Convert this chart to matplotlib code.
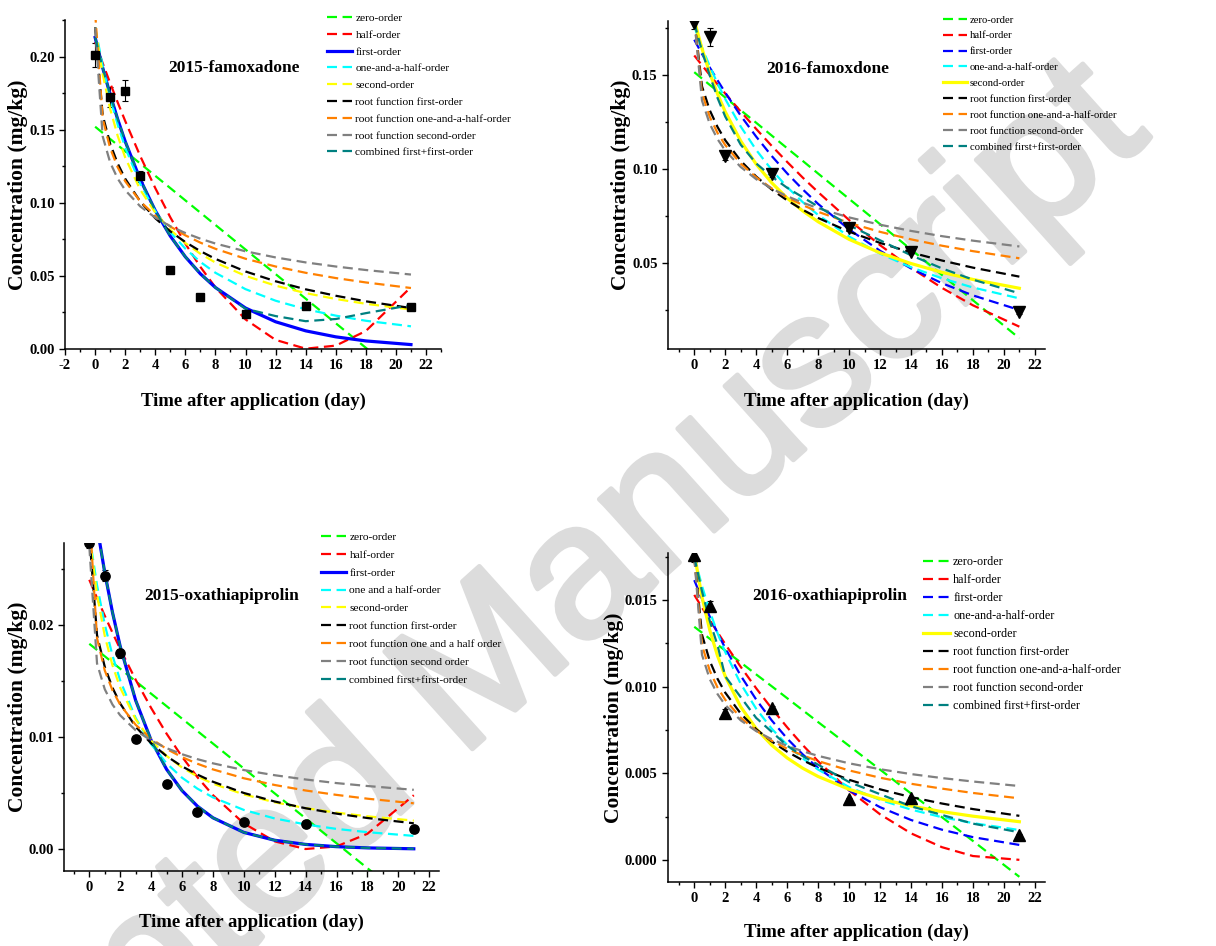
import matplotlib
matplotlib.use('Agg')
import matplotlib.pyplot as plt
import matplotlib.patheffects as pe
from matplotlib.ticker import MultipleLocator, FormatStrFormatter

plt.rcParams['font.family'] = ['Liberation Serif', 'DejaVu Serif']
plt.rcParams['font.weight'] = 'bold'
plt.rcParams['axes.labelweight'] = 'bold'
plt.rcParams['axes.unicode_minus'] = False

T_FIT = [0, 0.5, 1, 1.5, 2, 3, 4, 5, 6, 7, 8, 10, 12, 14, 16, 18, 21]

COLORS = ['#00ff00', '#ff0000', '#0000ff', '#00ffff', '#ffff00',
          '#000000', '#ff8000', '#808080', '#008080']

LABELS_A = ['zero-order', 'half-order', 'first-order', 'one-and-a-half-order',
            'second-order', 'root function first-order',
            'root function one-and-a-half-order', 'root function second-order',
            'combined first+first-order']
LABELS_B = ['zero-order', 'half-order', 'first-order', 'one and a half-order',
            'second-order', 'root function first-order',
            'root function one and a half order', 'root function second order',
            'combined first+first-order']

# ---- 2015 famoxadone
p1_days = [0, 1, 2, 3, 5, 7, 10, 14, 21]
p1_conc = [0.201, 0.1724, 0.1767, 0.118, 0.054, 0.0353, 0.0237, 0.0296, 0.029]
p1_err = [0.008, 0.007, 0.007, 0.004, 0.001, 0.001, 0.001, 0.001, 0.001]
p1_zero = [0.152, 0.1478, 0.1436, 0.1394, 0.1352, 0.1268, 0.1184, 0.110, 0.1016,
           0.0932, 0.0848, 0.068, 0.0512, 0.0344, 0.0176, 0.0008, -0.0244]
p1_half = [0.210, 0.1955, 0.1818, 0.1686, 0.1559, 0.1319, 0.1100, 0.0900, 0.0720,
           0.0561, 0.0421, 0.0202, 0.0062, 0.0002, 0.0023, 0.0123, 0.0423]
p1_first = [0.213, 0.1924, 0.1739, 0.1571, 0.1419, 0.1159, 0.0946, 0.0772, 0.0630,
            0.0514, 0.0420, 0.0280, 0.0186, 0.0124, 0.0083, 0.0055, 0.0030]
p1_onehalf = [0.220, 0.1936, 0.1717, 0.1534, 0.1378, 0.1130, 0.0943, 0.0799, 0.0686,
              0.0595, 0.0521, 0.0409, 0.0330, 0.0272, 0.0228, 0.0193, 0.0155]
p1_second = [0.220, 0.1880, 0.1642, 0.1457, 0.1309, 0.1089, 0.0932, 0.0815, 0.0724,
             0.0651, 0.0591, 0.0500, 0.0433, 0.0382, 0.0342, 0.0309, 0.0270]
p1_root1 = [0.220, 0.160, 0.1403, 0.1268, 0.1164, 0.1009, 0.0894, 0.0804, 0.0731,
            0.0669, 0.0616, 0.0530, 0.0463, 0.0408, 0.0364, 0.0326, 0.0280]
p1_root15 = [0.230, 0.1576, 0.1373, 0.1243, 0.1147, 0.1009, 0.0912, 0.0837, 0.0777,
             0.0727, 0.0685, 0.0617, 0.0564, 0.0521, 0.0485, 0.0455, 0.0417]
p1_root2 = [0.220, 0.1455, 0.1275, 0.1165, 0.1086, 0.0975, 0.0898, 0.0839, 0.0793,
            0.0754, 0.0721, 0.0668, 0.0626, 0.0592, 0.0564, 0.0540, 0.0509]
p1_comb = [0.213, 0.1924, 0.1739, 0.1571, 0.1419, 0.1159, 0.0946, 0.0772, 0.0630,
           0.0514, 0.0420, 0.0275, 0.0225, 0.0190, 0.0205, 0.0245, 0.0300]

# ---- 2016 famoxadone
p2_days = [0, 1, 2, 5, 10, 14, 21]
p2_conc = [0.1777, 0.1705, 0.1071, 0.0975, 0.0685, 0.056, 0.0236]
p2_err = [0.003, 0.005, 0.002, 0.002, 0.001, 0.001, 0.001]
p2_zero = [0.1517, 0.1483, 0.1449, 0.1416, 0.1382, 0.1314, 0.1247, 0.1179, 0.1111,
           0.1044, 0.0976, 0.0841, 0.0706, 0.0571, 0.0435, 0.0300, 0.0097]
p2_half = [0.1606, 0.1554, 0.1502, 0.1452, 0.1403, 0.1307, 0.1214, 0.1124, 0.1038,
           0.0955, 0.0877, 0.0728, 0.0594, 0.0473, 0.0366, 0.0273, 0.0159]
p2_first = [0.169, 0.1614, 0.1542, 0.1474, 0.1408, 0.1285, 0.1173, 0.1070, 0.0977,
            0.0892, 0.0814, 0.0678, 0.0564, 0.0470, 0.0391, 0.0326, 0.0248]
p2_onehalf = [0.176, 0.1649, 0.1549, 0.1457, 0.1374, 0.1227, 0.1102, 0.0996, 0.0904,
              0.0824, 0.0755, 0.0640, 0.0549, 0.0476, 0.0417, 0.0368, 0.0310]
p2_second = [0.1795, 0.1642, 0.1512, 0.1402, 0.1306, 0.1150, 0.1026, 0.0927, 0.0845,
             0.0777, 0.0719, 0.0625, 0.0553, 0.0496, 0.0449, 0.0411, 0.0364]
p2_root1 = [0.180, 0.1441, 0.1314, 0.1225, 0.1154, 0.1044, 0.0960, 0.0891, 0.0833,
            0.0783, 0.0739, 0.0666, 0.0606, 0.0555, 0.0512, 0.0474, 0.0426]
p2_root15 = [0.180, 0.1405, 0.1279, 0.1193, 0.1128, 0.1029, 0.0956, 0.0897, 0.0849,
             0.0808, 0.0772, 0.0713, 0.0665, 0.0625, 0.0591, 0.0562, 0.0524]
p2_root2 = [0.180, 0.1365, 0.1241, 0.1160, 0.1099, 0.1011, 0.0946, 0.0896, 0.0855,
            0.0821, 0.0791, 0.0742, 0.0703, 0.0670, 0.0642, 0.0618, 0.0587]
p2_comb = [0.178, 0.163, 0.150, 0.138, 0.128, 0.113, 0.103, 0.096, 0.090,
           0.085, 0.080, 0.070, 0.062, 0.054, 0.047, 0.041, 0.0337]

# ---- 2015 oxathiapiprolin
p3_days = [0, 1, 2, 3, 5, 7, 10, 14, 21]
p3_conc = [0.0273, 0.02437, 0.01747, 0.00984, 0.00582, 0.0033, 0.0024, 0.00223, 0.0018]
p3_err = [0.0005, 0.0005, 0.0004, 0.0002, 0.0002, 0.0002, 0.0002, 0.0002, 0.0002]
p3_zero = [0.0183, 0.01775, 0.01719, 0.01664, 0.01608, 0.01497, 0.01386, 0.01275,
           0.01164, 0.01053, 0.00942, 0.0072, 0.00498, 0.00276, 0.00054, -0.00168,
           -0.00501]
p3_half = [0.0240, 0.02238, 0.02080, 0.01929, 0.01783, 0.01510, 0.01259, 0.01030,
           0.00825, 0.00642, 0.00483, 0.00231, 0.00071, 0.00003, 0.00026, 0.00139,
           0.00482]
p3_first = [0.0336, 0.02877, 0.02464, 0.02110, 0.01807, 0.01326, 0.00972, 0.00713,
            0.00523, 0.00384, 0.00281, 0.00151, 0.00081, 0.00044, 0.00024, 0.00013,
            0.00005]
p3_onehalf = [0.0280, 0.02352, 0.02003, 0.01726, 0.01503, 0.01170, 0.00936, 0.00766,
              0.00638, 0.00540, 0.00463, 0.00351, 0.00275, 0.00222, 0.00182, 0.00153,
              0.00120]
p3_second = [0.0280, 0.02265, 0.01901, 0.01638, 0.01439, 0.01157, 0.00968, 0.00832,
             0.00729, 0.00649, 0.00585, 0.00489, 0.00419, 0.00367, 0.00327, 0.00294,
             0.00256]
p3_root1 = [0.0280, 0.01907, 0.01626, 0.01439, 0.01298, 0.01092, 0.00944, 0.00830,
            0.00739, 0.00665, 0.00602, 0.00502, 0.00426, 0.00366, 0.00318, 0.00279,
            0.00232]
p3_root15 = [0.0300, 0.01880, 0.01593, 0.01416, 0.01288, 0.01109, 0.00986, 0.00894,
             0.00821, 0.00762, 0.00712, 0.00633, 0.00573, 0.00524, 0.00485, 0.00451,
             0.00410]
p3_root2 = [0.0270, 0.01655, 0.01426, 0.01289, 0.01193, 0.01060, 0.00969, 0.00901,
            0.00847, 0.00803, 0.00766, 0.00706, 0.00660, 0.00622, 0.00590, 0.00564,
            0.00530]
p3_comb = [0.0336, 0.02877, 0.02464, 0.02110, 0.01807, 0.01326, 0.00972, 0.00713,
           0.00523, 0.00384, 0.00281, 0.00151, 0.00081, 0.00044, 0.00024, 0.00013,
           0.00005]

# ---- 2016 oxathiapiprolin
p4_days = [0, 1, 2, 5, 10, 14, 21]
p4_conc = [0.0176, 0.01467, 0.0085, 0.0088, 0.0035, 0.00356, 0.00142]
p4_err = [0.0004, 0.0003, 0.0002, 0.0001, 0.0001, 0.0001, 0.0001]
p4_zero = [0.01346, 0.01312, 0.01277, 0.01243, 0.01209, 0.0114, 0.01071, 0.01003,
           0.00934, 0.00865, 0.00796, 0.00659, 0.00522, 0.00384, 0.00247, 0.0011,
           -0.00097]
p4_half = [0.01530, 0.01457, 0.01385, 0.01315, 0.01246, 0.01115, 0.00991, 0.00875,
           0.00766, 0.00664, 0.00570, 0.00402, 0.00264, 0.00154, 0.00074, 0.00023,
           0.00001]
p4_first = [0.01615, 0.01507, 0.01405, 0.01311, 0.01223, 0.01064, 0.00926, 0.00806,
            0.00701, 0.00610, 0.00531, 0.00402, 0.00305, 0.00231, 0.00175, 0.00132,
            0.00087]
p4_onehalf = [0.01750, 0.01581, 0.01436, 0.01310, 0.01200, 0.01017, 0.00873, 0.00758,
              0.00664, 0.00587, 0.00522, 0.00421, 0.00347, 0.00291, 0.00247, 0.00213,
              0.00173]
p4_second = [0.01770, 0.01517, 0.01327, 0.01179, 0.01061, 0.00884, 0.00758, 0.00663,
             0.00589, 0.00530, 0.00482, 0.00408, 0.00354, 0.00312, 0.00279, 0.00253,
             0.00221]
p4_root1 = [0.01750, 0.01300, 0.01149, 0.01046, 0.00966, 0.00845, 0.00755, 0.00684,
            0.00625, 0.00576, 0.00533, 0.00463, 0.00408, 0.00363, 0.00326, 0.00294,
            0.00255]
p4_root15 = [0.01750, 0.01240, 0.01093, 0.00996, 0.00925, 0.00821, 0.00747, 0.00689,
             0.00642, 0.00604, 0.00571, 0.00517, 0.00475, 0.00440, 0.00412, 0.00387,
             0.00356]
p4_root2 = [0.01750, 0.01184, 0.01044, 0.00958, 0.00895, 0.00806, 0.00744, 0.00697,
            0.00659, 0.00628, 0.00601, 0.00558, 0.00524, 0.00496, 0.00473, 0.00453,
            0.00427]
p4_comb = [0.0175, 0.0155, 0.0138, 0.0124, 0.0106, 0.0094, 0.0082, 0.0074, 0.0066,
           0.0060, 0.0055, 0.0045, 0.0038, 0.0031, 0.0026, 0.0021, 0.0016]


fig = plt.figure(figsize=(12.16, 9.46), dpi=100)

# watermark behind everything
wm = fig.text(0.378, 0.266, 'Accepted Manuscript', rotation=42, fontsize=137,
              family='Liberation Sans', weight='normal', color='#dcdcdc',
              ha='center', va='center', zorder=-5)
wm.set_path_effects([pe.withStroke(linewidth=3.5, foreground='#dcdcdc')])


def draw_panel(rect, days, conc, err, marker, ms, curves, labels, solid,
               title, title_xy, xlim, ylim, ymaj, ymin, yfmt,
               leg_xy, leg_size, leg_space, ylab_x, xlab_y):
    ax = fig.add_axes(rect)
    ax.patch.set_alpha(0)
    ax.errorbar(days, conc, yerr=err, fmt=marker, color='k', ms=ms,
                capsize=2.5, elinewidth=0.8, capthick=0.8, zorder=2)
    lines = []
    for i in range(len(curves)):
        if i == solid:
            ln, = ax.plot(T_FIT, curves[i], color=COLORS[i], lw=2.3, label=labels[i])
        else:
            ln, = ax.plot(T_FIT, curves[i], color=COLORS[i], lw=1.6,
                          ls=(0, (4.5, 2.5)), label=labels[i])
        lines.append(ln)
    ax.set_xlim(*xlim)
    ax.set_ylim(*ylim)
    ax.xaxis.set_major_locator(MultipleLocator(2))
    ax.xaxis.set_minor_locator(MultipleLocator(1))
    ax.yaxis.set_major_locator(MultipleLocator(ymaj))
    ax.yaxis.set_minor_locator(MultipleLocator(ymin))
    ax.yaxis.set_major_formatter(FormatStrFormatter(yfmt))
    ax.spines['top'].set_visible(False)
    ax.spines['right'].set_visible(False)
    ax.spines['left'].set_linewidth(1.1)
    ax.spines['bottom'].set_linewidth(1.1)
    ax.tick_params(which='both', direction='out', width=1, labelsize=10.5)
    ax.tick_params(which='major', length=4)
    ax.tick_params(which='minor', length=2.5)
    ax.set_ylabel('Concentration (mg/kg)', fontsize=15.5)
    ax.set_xlabel('Time after application (day)', fontsize=13.5)
    ax.yaxis.set_label_coords(ylab_x, 0.5)
    ax.xaxis.set_label_coords(0.5, xlab_y)
    ax.text(title_xy[0], title_xy[1], title, transform=ax.transAxes,
            ha='center', va='center', fontsize=12.5, weight='bold')
    ax.legend(handles=lines, loc='upper left', bbox_to_anchor=leg_xy,
              bbox_transform=fig.transFigure, frameon=False, borderpad=0,
              borderaxespad=0, handlelength=2.2, handletextpad=0.3,
              labelspacing=leg_space,
              prop={'family': 'Liberation Serif', 'weight': 'normal', 'size': leg_size})
    return ax


draw_panel([0.0535, 0.6311, 0.3092, 0.3478], p1_days, p1_conc, p1_err, 's', 6,
           [p1_zero, p1_half, p1_first, p1_onehalf, p1_second, p1_root1, p1_root15,
            p1_root2, p1_comb], LABELS_A, 2,
           '2015-famoxadone', (0.449, 0.854), (-2, 23), (0, 0.225), 0.05, 0.025, '%.2f',
           (0.2689, 0.9863), 8.2, 0.6, -0.098, -0.134)

draw_panel([0.5493, 0.6311, 0.3100, 0.3467], p2_days, p2_conc, p2_err, 'v', 8,
           [p2_zero, p2_half, p2_first, p2_onehalf, p2_second, p2_root1, p2_root15,
            p2_root2, p2_comb], LABELS_A, 4,
           '2016-famoxdone', (0.424, 0.854), (-1.7, 22.65), (0.004, 0.179), 0.05, 0.025,
           '%.2f', (0.7755, 0.9841), 7.7, 0.6, -0.098, -0.134)

draw_panel([0.0526, 0.0796, 0.3084, 0.3467], p3_days, p3_conc, p3_err, 'o', 6.7,
           [p3_zero, p3_half, p3_first, p3_onehalf, p3_second, p3_root1, p3_root15,
            p3_root2, p3_comb], LABELS_B, 2,
           '2015-oxathiapiprolin', (0.421, 0.838), (-1.64, 22.63), (-0.0019, 0.0273),
           0.01, 0.005, '%.2f', (0.264, 0.4376), 8.2, 0.69, -0.096, -0.132)

draw_panel([0.5493, 0.0680, 0.3100, 0.3471], p4_days, p4_conc, p4_err, '^', 8,
           [p4_zero, p4_half, p4_first, p4_onehalf, p4_second, p4_root1, p4_root15,
            p4_root2, p4_comb], LABELS_A, 4,
           '2016-oxathiapiprolin', (0.43, 0.87), (-1.7, 22.65), (-0.00125, 0.0177),
           0.005, 0.0025, '%.3f', (0.759, 0.4123), 8.7, 0.5, -0.117, -0.129)

fig.savefig('out.png', dpi=100)
